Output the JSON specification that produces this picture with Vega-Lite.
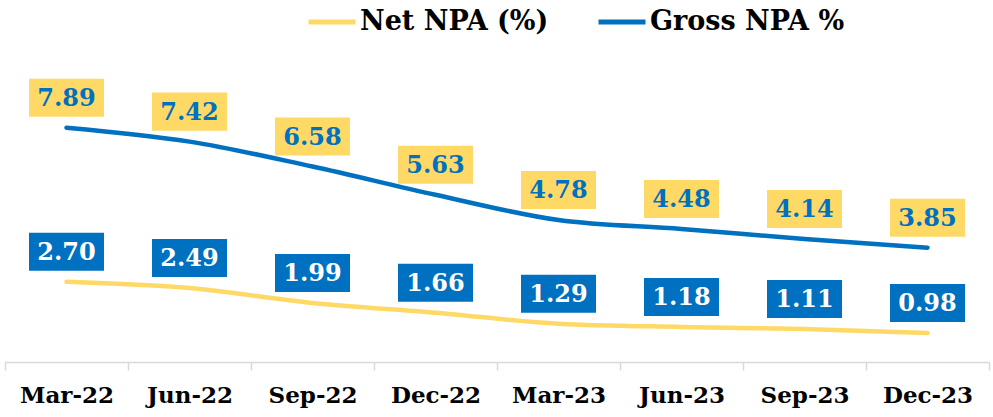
{
  "$schema": "https://vega.github.io/schema/vega-lite/v6.json",
  "width": 984,
  "height": 297,
  "autosize": {"type": "none"},
  "padding": {"left": 5, "top": 65, "right": 4, "bottom": 55},
  "background": "white",
  "config": {"view": {"stroke": null}},
  "data": {
    "values": [
      {"period": "Mar-22", "series": "Net NPA (%)", "value": 2.70},
      {"period": "Jun-22", "series": "Net NPA (%)", "value": 2.49},
      {"period": "Sep-22", "series": "Net NPA (%)", "value": 1.99},
      {"period": "Dec-22", "series": "Net NPA (%)", "value": 1.66},
      {"period": "Mar-23", "series": "Net NPA (%)", "value": 1.29},
      {"period": "Jun-23", "series": "Net NPA (%)", "value": 1.18},
      {"period": "Sep-23", "series": "Net NPA (%)", "value": 1.11},
      {"period": "Dec-23", "series": "Net NPA (%)", "value": 0.98},
      {"period": "Mar-22", "series": "Gross NPA %", "value": 7.89},
      {"period": "Jun-22", "series": "Gross NPA %", "value": 7.42},
      {"period": "Sep-22", "series": "Gross NPA %", "value": 6.58},
      {"period": "Dec-22", "series": "Gross NPA %", "value": 5.63},
      {"period": "Mar-23", "series": "Gross NPA %", "value": 4.78},
      {"period": "Jun-23", "series": "Gross NPA %", "value": 4.48},
      {"period": "Sep-23", "series": "Gross NPA %", "value": 4.14},
      {"period": "Dec-23", "series": "Gross NPA %", "value": 3.85}
    ]
  },
  "encoding": {
    "x": {
      "field": "period",
      "type": "nominal",
      "sort": ["Mar-22", "Jun-22", "Sep-22", "Dec-22", "Mar-23", "Jun-23", "Sep-23", "Dec-23"],
      "scale": {"paddingInner": 0, "paddingOuter": 0},
      "axis": {
        "title": null,
        "labelAngle": 0,
        "labelFont": "DejaVu Serif",
        "labelFontWeight": "bold",
        "labelFontSize": 23,
        "labelColor": "black",
        "labelPadding": 14,
        "domainColor": "#d9d9d9",
        "domainWidth": 1.5,
        "tickColor": "#d9d9d9",
        "tickWidth": 1.5,
        "tickSize": 8,
        "tickBand": "extent",
        "grid": false
      }
    },
    "y": {
      "field": "value",
      "type": "quantitative",
      "scale": {"domain": [0, 10], "nice": false},
      "axis": null
    }
  },
  "layer": [
    {
      "mark": {"type": "line", "interpolate": "monotone", "strokeWidth": 4.5, "strokeCap": "round"},
      "encoding": {
        "color": {
          "field": "series",
          "type": "nominal",
          "scale": {"domain": ["Net NPA (%)", "Gross NPA %"], "range": ["#FFD966", "#0070C0"]},
          "legend": {
            "title": null,
            "orient": "none",
            "direction": "horizontal",
            "legendX": 301,
            "legendY": -69,
            "symbolType": "stroke",
            "symbolSize": 2209,
            "symbolStrokeWidth": 5,
            "labelFont": "DejaVu Serif",
            "labelFontWeight": "bold",
            "labelFontSize": 27,
            "labelColor": "black",
            "labelOffset": 2,
            "columnPadding": 39,
            "labelLimit": 400
          }
        }
      }
    },
    {
      "mark": {"type": "point", "filled": true, "opacity": 1, "shape": "M-1,-0.507L1,-0.507L1,0.507L-1,0.507Z", "size": 5625, "yOffset": -30},
      "encoding": {
        "color": {
          "condition": {"test": "datum.series === 'Gross NPA %'", "value": "#FFD966"},
          "value": "#0070C0"
        }
      }
    },
    {
      "mark": {"type": "text", "font": "DejaVu Serif", "fontWeight": "bold", "fontSize": 24, "baseline": "middle", "align": "center", "yOffset": -29},
      "encoding": {
        "text": {"field": "value", "type": "quantitative", "format": ".2f"},
        "color": {
          "condition": {"test": "datum.series === 'Gross NPA %'", "value": "#0070C0"},
          "value": "white"
        }
      }
    }
  ]
}
